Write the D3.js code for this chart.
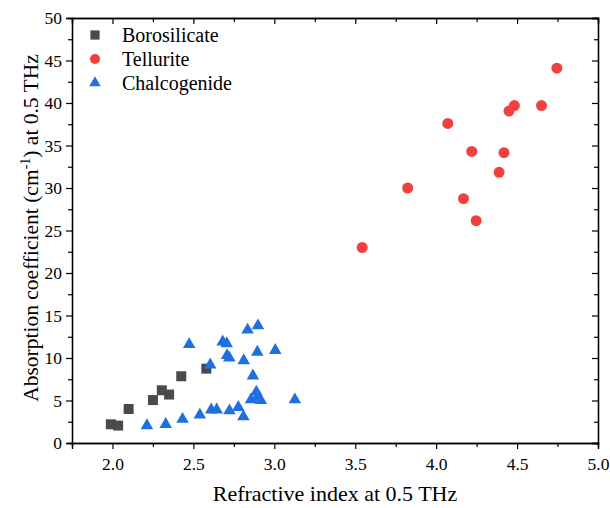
<!DOCTYPE html>
<html>
<head>
<meta charset="utf-8">
<script src="https://cdn.jsdelivr.net/npm/d3@7"></script>
<style>
  body { margin: 0; background: #fff; }
  svg { display: block; font-family: "Liberation Serif", "Times New Roman", serif; }
</style>
</head>
<body>
<svg width="610" height="508"></svg>
<script>
// data
const borosilicateN = [1.99, 2.035, 2.10, 2.25, 2.305, 2.35, 2.425, 2.58];
const borosilicateAlpha = [2.2, 2.05, 4.0, 5.05, 6.2, 5.7, 7.85, 8.75];

const telluriteN = [4.746, 4.483, 4.450, 4.651, 4.072, 4.220, 4.419, 4.389, 3.824, 4.169, 4.247, 3.543];
const telluriteAlpha = [44.1, 39.7, 39.05, 39.7, 37.6, 34.3, 34.15, 31.85, 30.0, 28.75, 26.15, 23.0];

const chalcogenideN = [2.474, 2.681, 2.706, 2.835, 2.899, 2.708, 2.722, 2.811, 2.895, 3.006,
  2.604, 2.868, 2.889, 2.856, 2.917, 2.895, 3.127, 2.213, 2.329, 2.433, 2.540, 2.610, 2.644,
  2.723, 2.778, 2.809];
const chalcogenideAlpha = [11.6, 11.9, 11.7, 13.3, 13.8, 10.3, 10.0, 9.7, 10.7, 10.9,
  9.2, 7.9, 6.0, 5.1, 5.0, 5.4, 5.1, 2.05, 2.2, 2.8, 3.3, 3.9, 3.9,
  3.8, 4.2, 3.1];

const series = [
  { name: "Borosilicate", n: borosilicateN, a: borosilicateAlpha, shape: d3.symbolSquare, size: 100, color: "#4a4a4a" },
  { name: "Tellurite", n: telluriteN, a: telluriteAlpha, shape: d3.symbolCircle, size: 95, color: "#f2403f" },
  { name: "Chalcogenide", n: chalcogenideN, a: chalcogenideAlpha, shape: d3.symbolTriangle, size: 68, color: "#1f70df" }
];

const svg = d3.select("svg");
const margin = { top: 18, right: 12, bottom: 65, left: 72 };
const plotW = 598 - margin.left;
const plotH = 443 - margin.top;

const x = d3.scaleLinear().domain([1.75, 5.0]).range([0, plotW]);
const y = d3.scaleLinear().domain([0, 50]).range([plotH, 0]);

const g = svg.append("g").attr("transform", `translate(${margin.left},${margin.top})`);

const xMajor = d3.range(2.0, 5.01, 0.5);
const xMinor = d3.range(1.75, 5.01, 0.25).filter(v => !xMajor.some(m => Math.abs(m - v) < 1e-6));
const yMajor = d3.range(0, 50.1, 5);
const yMinor = d3.range(2.5, 50, 5);

function styleAxis(sel) {
  sel.select(".domain").attr("stroke", "#000").attr("stroke-width", 1.3);
  sel.selectAll(".tick line").attr("stroke", "#000").attr("stroke-width", 1.2);
  sel.selectAll(".tick text").attr("font-size", 17.5).attr("font-family", "Liberation Serif").attr("fill", "#000");
}

// minor ticks first
g.append("g").attr("transform", `translate(0,${plotH})`)
  .call(d3.axisBottom(x).tickValues(xMinor).tickSize(4).tickFormat(""))
  .call(styleAxis);
g.append("g")
  .call(d3.axisLeft(y).tickValues(yMinor).tickSize(4).tickFormat(""))
  .call(styleAxis);
g.append("g")
  .call(d3.axisTop(x).tickValues(xMinor).tickSize(-4).tickFormat(""))
  .call(styleAxis);
g.append("g").attr("transform", `translate(${plotW},0)`)
  .call(d3.axisRight(y).tickValues(yMinor).tickSize(-4).tickFormat(""))
  .call(styleAxis);

// major ticks
g.append("g").attr("transform", `translate(0,${plotH})`)
  .call(d3.axisBottom(x).tickValues(xMajor).tickSize(6).tickPadding(9).tickFormat(d3.format(".1f")))
  .call(styleAxis);
g.append("g")
  .call(d3.axisLeft(y).tickValues(yMajor).tickSize(6).tickPadding(4).tickFormat(d3.format("d")))
  .call(styleAxis);
g.append("g")
  .call(d3.axisTop(x).tickValues(xMajor).tickSize(-6).tickFormat(""))
  .call(styleAxis);
g.append("g").attr("transform", `translate(${plotW},0)`)
  .call(d3.axisRight(y).tickValues(yMajor).tickSize(-6).tickFormat(""))
  .call(styleAxis);

// points
series.forEach(s => {
  g.append("g").selectAll("path")
    .data(s.n.map((v, i) => ({ n: v, a: s.a[i] })))
    .enter().append("path")
    .attr("d", d3.symbol().type(s.shape).size(s.size))
    .attr("transform", d => `translate(${x(d.n)},${y(d.a)})`)
    .attr("fill", s.color);
});

// legend
const legend = g.append("g").attr("transform", "translate(23,17)");
series.forEach((s, i) => {
  const row = legend.append("g").attr("transform", `translate(0,${i * 24})`);
  row.append("path")
    .attr("d", d3.symbol().type(s.shape).size(s.size * 0.85))
    .attr("fill", s.color);
  row.append("text")
    .attr("x", 27)
    .attr("y", 6.5)
    .attr("font-size", 20)
    .attr("fill", "#000")
    .text(s.name);
});

// axis titles
svg.append("text")
  .attr("x", 335)
  .attr("y", 501)
  .attr("text-anchor", "middle")
  .attr("font-size", 22)
  .text("Refractive index at 0.5 THz");

const yt = svg.append("text")
  .attr("transform", "translate(38,228) rotate(-90)")
  .attr("text-anchor", "middle")
  .attr("font-size", 21.5);
yt.append("tspan").text("Absorption coefficient (cm");
yt.append("tspan").attr("font-size", 14).attr("dy", -8).text("-1");
yt.append("tspan").attr("dy", 8).text(") at 0.5 THz");
</script>
</body>
</html>
